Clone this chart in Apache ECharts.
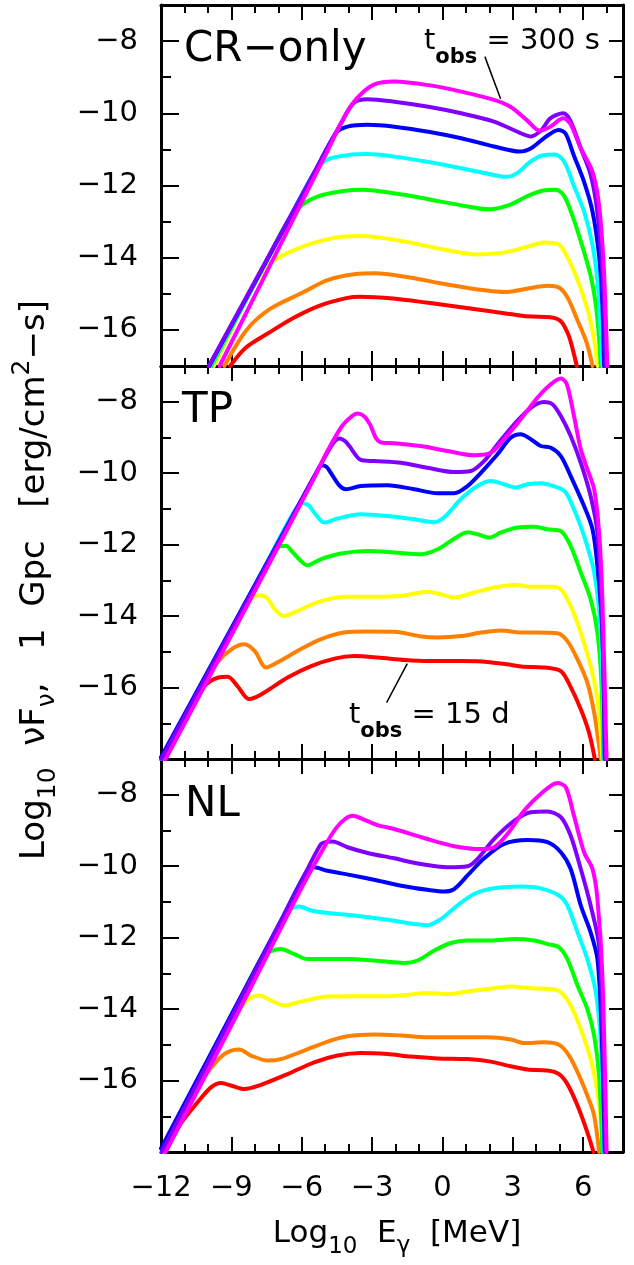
<!DOCTYPE html>
<html><head><meta charset="utf-8">
<script src="https://cdn.jsdelivr.net/npm/echarts@6/dist/echarts.min.js"></script>
<style>html,body{margin:0;padding:0;background:#fff;}#c{width:634px;height:1265px;}</style>
</head><body><div id="c"></div>
<script>
// ---------------- data ----------------
const lineColors = ['#ff0000','#ff8000','#ffff00','#00ff00','#00ffff','#0000ff','#8000ff','#ff00ff'];
const xTickLabels = [-12,-9,-6,-3,0,3,6];
const yTickLabels = [-16,-14,-12,-10,-8];
const panelNames = ['CR\u2212only','TP','NL'];
const yMins = [-17,-18,-18];
const yMaxAll = -7;
const xMin = -12, xMax = 7.7;

// CR-only panel
const crRed = [[-9.05,-17],[-8.4,-16.5],[-7.4,-16.08],[-6.3,-15.65],[-5.2,-15.32],[-4.1,-15.12],[-3.5,-15.08],[-2.1,-15.13],[-0.6,-15.25],[0.8,-15.37],[2.2,-15.5],[3.3,-15.6],[3.8,-15.63],[4.6,-15.65],[5.05,-15.76],[5.38,-16.15],[5.6,-16.65],[5.73,-17]];
const crOrange = [[-9.3,-17],[-8.35,-16.0],[-7.35,-15.42],[-6.0,-14.98],[-4.9,-14.62],[-3.7,-14.45],[-2.9,-14.43],[-1.4,-14.55],[0.1,-14.73],[1.5,-14.88],[2.75,-14.95],[3.6,-14.86],[4.5,-14.78],[5.0,-14.84],[5.35,-15.12],[5.75,-15.72],[6.15,-16.35],[6.4,-17]];
const crYellow = [[-9.75,-17],[-8.7,-15.6],[-8.22,-14.95],[-7.35,-14.15],[-5.9,-13.68],[-4.6,-13.45],[-3.6,-13.4],[-2.8,-13.43],[-1.4,-13.58],[0.1,-13.78],[1.5,-13.91],[2.6,-13.86],[3.6,-13.7],[4.35,-13.58],[4.95,-13.63],[5.3,-13.95],[5.75,-14.6],[6.18,-15.42],[6.45,-16.2],[6.62,-17]];
const crGreen = [[-9.85,-17],[-7.5,-14.1],[-6.65,-13.05],[-6.0,-12.55],[-5.3,-12.3],[-4.3,-12.16],[-3.4,-12.12],[-2.0,-12.22],[-0.6,-12.38],[0.8,-12.55],[2.0,-12.66],[2.9,-12.53],[3.6,-12.3],[4.3,-12.14],[4.85,-12.12],[5.2,-12.3],[5.55,-12.85],[5.95,-13.65],[6.32,-14.5],[6.55,-15.35],[6.68,-16.25],[6.75,-17]];
const crCyan = [[-9.9,-17],[-6.5,-12.89],[-5.45,-11.62],[-4.9,-11.28],[-4.05,-11.16],[-3.2,-11.13],[-2.05,-11.2],[-0.6,-11.35],[0.8,-11.52],[2.2,-11.71],[2.75,-11.76],[3.2,-11.65],[3.75,-11.34],[4.3,-11.16],[4.8,-11.14],[5.2,-11.35],[5.6,-12.0],[6.04,-12.72],[6.4,-13.65],[6.64,-14.85],[6.76,-16.2],[6.82,-17]];
const crBlue = [[-9.94,-17],[-5.6,-11.82],[-4.54,-10.55],[-4.05,-10.37],[-3.2,-10.32],[-2.05,-10.37],[-0.6,-10.51],[0.8,-10.69],[2.2,-10.92],[3.3,-11.06],[3.8,-10.96],[4.35,-10.68],[4.95,-10.46],[5.25,-10.56],[5.6,-11.16],[6.04,-11.9],[6.4,-12.72],[6.68,-13.95],[6.82,-15.3],[6.89,-17]];
const crViolet = [[-9.96,-17],[-5.3,-11.44],[-4.3,-10.25],[-3.76,-9.7],[-3.2,-9.61],[-2.05,-9.68],[-0.6,-9.82],[0.8,-10.0],[2.2,-10.23],[3.3,-10.54],[3.75,-10.64],[4.2,-10.48],[4.6,-10.14],[5.15,-10.0],[5.45,-10.2],[5.9,-10.97],[6.32,-11.7],[6.6,-12.7],[6.82,-14.4],[6.96,-17]];
const crMagenta = [[-9.5,-17],[-5.0,-11.17],[-4.1,-10.0],[-3.6,-9.55],[-2.9,-9.2],[-2.05,-9.12],[-0.6,-9.22],[0.8,-9.4],[2.2,-9.63],[2.9,-9.82],[3.6,-10.19],[4.15,-10.48],[4.6,-10.37],[5.15,-10.14],[5.45,-10.28],[5.9,-10.97],[6.4,-11.62],[6.68,-12.55],[6.89,-14.4],[7.03,-17]];

// TP panel
const tpRed = [[-11.98,-18],[-11.5,-17.4],[-10.86,-16.62],[-10.15,-15.96],[-9.55,-15.72],[-9.15,-15.7],[-8.75,-15.95],[-8.25,-16.32],[-7.75,-16.2],[-6.6,-15.72],[-5.6,-15.4],[-4.6,-15.19],[-3.75,-15.12],[-2.75,-15.16],[-1.6,-15.23],[-0.6,-15.26],[0.8,-15.26],[1.65,-15.27],[2.75,-15.35],[3.35,-15.41],[4.35,-15.44],[5.05,-15.54],[5.45,-15.96],[5.9,-16.61],[6.25,-17.26],[6.5,-18]];
const tpOrange = [[-11.97,-18],[-11.15,-17.0],[-10.3,-16.0],[-9.6,-15.3],[-9.0,-14.93],[-8.45,-14.79],[-8.0,-14.98],[-7.52,-15.44],[-7.05,-15.3],[-6.05,-14.93],[-5.2,-14.65],[-4.2,-14.46],[-3.2,-14.43],[-2.05,-14.44],[-0.9,-14.57],[-0.2,-14.6],[0.8,-14.56],[1.65,-14.46],[2.5,-14.4],[3.35,-14.46],[4.05,-14.46],[4.9,-14.48],[5.33,-14.7],[5.76,-15.21],[6.18,-15.86],[6.47,-16.7],[6.68,-17.63],[6.75,-18]];
const tpYellow = [[-11.96,-18],[-9.5,-15.0],[-8.45,-13.72],[-8.1,-13.48],[-7.75,-13.42],[-7.45,-13.52],[-7.1,-13.85],[-6.75,-14.0],[-6.2,-13.86],[-5.18,-13.58],[-4.05,-13.46],[-2.9,-13.46],[-1.77,-13.44],[-0.64,-13.32],[-0.07,-13.39],[0.5,-13.48],[1.35,-13.34],[2.2,-13.2],[3.06,-13.13],[3.9,-13.18],[4.62,-13.18],[5.05,-13.25],[5.47,-13.72],[5.9,-14.46],[6.32,-15.4],[6.61,-16.33],[6.75,-17.26],[6.82,-18]];
const tpGreen = [[-11.95,-18],[-8.3,-13.54],[-7.25,-12.25],[-6.95,-12.05],[-6.67,-12.03],[-6.4,-12.2],[-6.15,-12.38],[-5.75,-12.58],[-5.2,-12.41],[-4.33,-12.25],[-3.2,-12.18],[-2.05,-12.22],[-0.9,-12.27],[-0.2,-12.13],[0.36,-11.9],[1.07,-11.65],[1.5,-11.71],[2.0,-11.8],[2.5,-11.66],[3.2,-11.52],[3.9,-11.5],[4.48,-11.57],[5.05,-11.62],[5.47,-12.04],[5.9,-12.78],[6.32,-13.53],[6.61,-14.46],[6.78,-15.86],[6.86,-18]];
const tpCyan = [[-11.97,-18],[-7.4,-12.39],[-6.35,-11.1],[-5.96,-10.84],[-5.7,-10.9],[-5.47,-11.1],[-5.04,-11.38],[-4.47,-11.27],[-3.48,-11.15],[-2.34,-11.2],[-1.2,-11.29],[-0.35,-11.37],[0.07,-11.24],[0.78,-10.73],[1.49,-10.36],[2.06,-10.22],[2.63,-10.31],[3.13,-10.4],[3.63,-10.31],[4.19,-10.28],[4.9,-10.4],[5.26,-10.54],[5.61,-11.01],[6.04,-11.76],[6.47,-12.78],[6.75,-14.46],[6.89,-18]];
const tpBlue = [[-12,-17.95],[-6.4,-11.21],[-5.35,-9.95],[-5.15,-9.78],[-4.95,-9.82],[-4.76,-9.99],[-4.4,-10.34],[-4.12,-10.45],[-3.48,-10.36],[-2.34,-10.34],[-1.2,-10.45],[-0.21,-10.56],[0.5,-10.56],[1.07,-10.36],[1.64,-9.99],[2.35,-9.47],[2.91,-9.01],[3.34,-8.91],[3.77,-9.05],[4.19,-9.24],[4.62,-9.29],[5.05,-9.52],[5.47,-10.08],[6.04,-10.92],[6.4,-11.57],[6.61,-12.6],[6.82,-14.46],[6.92,-18]];
const tpViolet = [[-11.98,-18],[-5.8,-10.52],[-4.75,-9.25],[-4.4,-9.03],[-4.15,-9.1],[-3.97,-9.24],[-3.48,-9.63],[-2.91,-9.66],[-1.77,-9.71],[-0.64,-9.85],[0.5,-9.97],[1.21,-9.94],[1.78,-9.66],[2.35,-9.19],[3.06,-8.63],[3.77,-8.17],[4.33,-8.01],[4.69,-8.07],[5.05,-8.4],[5.47,-8.96],[5.9,-9.71],[6.32,-10.64],[6.61,-11.66],[6.78,-13.53],[6.96,-18]];
const tpMagenta = [[-11.8,-18],[-8.0,-13.3],[-5.6,-10.3],[-4.9,-9.38],[-4.3,-8.7],[-3.85,-8.4],[-3.62,-8.33],[-3.35,-8.4],[-3.1,-8.62],[-2.8,-9.05],[-2.55,-9.15],[-2.06,-9.16],[-0.92,-9.24],[0.22,-9.38],[1.35,-9.5],[2.06,-9.43],[2.63,-9.05],[3.34,-8.49],[4.05,-7.89],[4.62,-7.51],[5.05,-7.35],[5.3,-7.5],[5.61,-8.4],[5.9,-9.33],[6.18,-9.89],[6.47,-10.45],[6.68,-11.66],[6.82,-13.53],[7.0,-18]];

// NL panel
const nlRed = [[-11.85,-18],[-11.15,-17.2],[-10.44,-16.61],[-9.87,-16.19],[-9.44,-16.07],[-9.02,-16.14],[-8.45,-16.24],[-7.74,-16.12],[-6.6,-15.82],[-5.47,-15.49],[-4.47,-15.3],[-3.48,-15.23],[-2.34,-15.26],[-1.35,-15.33],[-0.21,-15.38],[1.07,-15.4],[2.06,-15.47],[2.91,-15.6],[3.63,-15.69],[4.48,-15.72],[4.97,-15.82],[5.33,-16.1],[5.76,-16.7],[6.18,-17.45],[6.44,-18]];
const nlOrange = [[-11.88,-18],[-10.86,-16.65],[-10.01,-15.77],[-9.3,-15.26],[-8.66,-15.13],[-8.16,-15.3],[-7.45,-15.44],[-6.89,-15.4],[-5.89,-15.16],[-4.9,-14.91],[-4.05,-14.76],[-2.91,-14.71],[-1.77,-14.74],[-0.64,-14.79],[0.78,-14.79],[1.92,-14.79],[2.91,-14.85],[3.48,-14.95],[4.33,-14.93],[4.97,-15.0],[5.4,-15.3],[5.83,-15.86],[6.18,-16.42],[6.47,-16.98],[6.68,-18]];
const nlYellow = [[-11.95,-18],[-10.0,-15.49],[-9.0,-14.2],[-8.66,-14.0],[-8.25,-13.72],[-7.81,-13.62],[-7.31,-13.76],[-6.74,-13.9],[-6.03,-13.79],[-4.9,-13.65],[-3.76,-13.64],[-2.34,-13.64],[-1.49,-13.6],[-0.64,-13.55],[0.22,-13.58],[1.07,-13.51],[1.92,-13.44],[2.91,-13.37],[3.77,-13.42],[4.62,-13.44],[5.05,-13.53],[5.47,-13.9],[5.9,-14.56],[6.32,-15.4],[6.61,-16.33],[6.78,-17.26],[6.86,-18]];
const nlGreen = [[-11.92,-18],[-8.8,-13.97],[-7.7,-12.55],[-7.3,-12.38],[-6.89,-12.32],[-6.32,-12.46],[-5.75,-12.6],[-4.9,-12.6],[-4.05,-12.6],[-2.91,-12.64],[-1.63,-12.71],[-1.06,-12.64],[-0.35,-12.36],[0.36,-12.15],[1.07,-12.08],[2.06,-12.08],[3.06,-12.04],[3.91,-12.08],[4.48,-12.18],[4.97,-12.27],[5.33,-12.6],[5.76,-13.34],[6.18,-14.0],[6.47,-14.74],[6.68,-15.86],[6.82,-18]];
const nlCyan = [[-11.95,-18],[-7.7,-12.64],[-6.6,-11.25],[-6.3,-11.15],[-6.1,-11.13],[-5.61,-11.24],[-4.9,-11.31],[-3.76,-11.38],[-2.34,-11.5],[-1.2,-11.62],[-0.64,-11.65],[-0.07,-11.48],[0.64,-11.1],[1.35,-10.78],[2.2,-10.62],[3.34,-10.57],[4.19,-10.62],[4.97,-10.82],[5.33,-11.1],[5.76,-11.85],[6.18,-12.6],[6.54,-13.53],[6.75,-14.93],[6.89,-18]];
const nlBlue = [[-12,-17.9],[-6.8,-11.41],[-5.75,-10.1],[-5.47,-10.03],[-4.9,-10.13],[-3.9,-10.25],[-2.77,-10.4],[-1.63,-10.56],[-0.64,-10.66],[0.07,-10.71],[0.5,-10.64],[1.07,-10.26],[1.78,-9.78],[2.63,-9.38],[3.63,-9.27],[4.48,-9.33],[5.05,-9.61],[5.47,-10.08],[5.9,-11.1],[6.32,-11.85],[6.61,-12.6],[6.78,-14.46],[6.92,-18]];
const nlViolet = [[-11.97,-18],[-6.2,-10.67],[-5.2,-9.4],[-4.95,-9.32],[-4.68,-9.31],[-4.05,-9.47],[-3.19,-9.63],[-2.06,-9.78],[-0.92,-9.94],[0.22,-10.03],[1.07,-10.0],[1.49,-9.8],[2.2,-9.24],[3.06,-8.73],[3.77,-8.49],[4.48,-8.47],[5.05,-8.63],[5.47,-9.15],[5.9,-10.08],[6.32,-11.1],[6.68,-12.22],[6.82,-14.46],[6.96,-18]];
const nlMagenta = [[-11.8,-18],[-8.6,-13.95],[-6.0,-10.6],[-5.0,-9.42],[-4.55,-8.95],[-4.15,-8.68],[-3.83,-8.59],[-3.4,-8.68],[-2.77,-8.85],[-2.06,-8.96],[-0.64,-9.24],[0.5,-9.44],[1.64,-9.52],[2.2,-9.47],[2.77,-9.1],[3.48,-8.45],[4.19,-7.98],[4.9,-7.67],[5.26,-7.79],[5.61,-8.59],[6.04,-9.61],[6.4,-10.08],[6.61,-10.92],[6.82,-13.06],[7.0,-18]];

const panelSeries = [
  [crRed, crOrange, crYellow, crGreen, crCyan, crBlue, crViolet, crMagenta],
  [tpRed, tpOrange, tpYellow, tpGreen, tpCyan, tpBlue, tpViolet, tpMagenta],
  [nlRed, nlOrange, nlYellow, nlGreen, nlCyan, nlBlue, nlViolet, nlMagenta]
];
// annotation leader lines in data coordinates [panel, start, end]
const leaderLines = [[0, [1.81,-8.43], [2.48,-9.6]], [1, [-2.38,-16.42], [-1.5,-15.33]]];

// ---------------- layout ----------------
const FONT = 'DejaVu Sans';
const gridLeft = 161, gridWidth = 462;
const panelTops = [5, 366, 759];
const panelHeights = [361, 393, 393];
const minus = v => String(v).replace('-', '\u2212');

const grids = [], xAxes = [], yAxes = [], series = [];
for (let p = 0; p < 3; p++) {
  grids.push({left: gridLeft, top: panelTops[p], width: gridWidth, height: panelHeights[p], show: false, containLabel: false, outerBoundsMode: 'none'});
  ['bottom','top'].forEach(pos => {
    xAxes.push({
      type: 'value', gridIndex: p, position: pos, min: xMin, max: xMax, interval: 3,
      axisLine: {show: true, onZero: false, lineStyle: {color: '#000', width: 3}},
      axisTick: {show: true, inside: true, length: 15, lineStyle: {color: '#000', width: 2}},
      minorTick: {show: true, splitNumber: 3, length: 8, lineStyle: {color: '#000', width: 2}},
      splitLine: {show: false}, minorSplitLine: {show: false},
      axisLabel: {show: (p === 2 && pos === 'bottom'), margin: 22, color: '#000', fontSize: 29, fontFamily: FONT,
        formatter: v => (Math.abs(v % 3) < 1e-9 ? minus(v) : '')}
    });
  });
  const evenFmt = v => (Math.abs(v % 2) < 1e-9 && v > yMins[p] + 0.5 && v < yMaxAll - 0.5) ? minus(v) : '';
  ['left','right'].forEach(pos => {
    yAxes.push({
      type: 'value', gridIndex: p, position: pos, min: yMins[p], max: yMaxAll, interval: 1,
      axisLine: {show: true, onZero: false, lineStyle: {color: '#000', width: 3}},
      axisTick: {show: true, inside: true, length: pos === 'left' ? 18 : 14, customValues: yTickLabels, lineStyle: {color: '#000', width: 2}},
      splitLine: {show: false},
      axisLabel: {show: pos === 'left', customValues: yTickLabels, margin: 23, color: '#000', fontSize: 29, fontFamily: FONT, formatter: evenFmt}
    });
    yAxes.push({
      type: 'value', gridIndex: p, position: pos, min: yMins[p], max: yMaxAll, interval: 1,
      axisLine: {show: false, onZero: false},
      axisTick: {show: true, inside: true, length: pos === 'left' ? 10 : 9, lineStyle: {color: '#000', width: 2}},
      splitLine: {show: false}, axisLabel: {show: false}
    });
  });
  panelSeries[p].forEach((data, j) => {
    series.push({
      type: 'line', xAxisIndex: 2 * p, yAxisIndex: 4 * p, data: data,
      showSymbol: false, symbol: 'none', smooth: 0.3, clip: true,
      lineStyle: {color: lineColors[j], width: 4, cap: 'round', join: 'round'},
      silent: true, emphasis: {disabled: true}, animation: false
    });
  });
}

const chart = echarts.init(document.getElementById('c'), null, {renderer: 'canvas'});
chart.setOption({animation: false, backgroundColor: '#fff', grid: grids, xAxis: xAxes, yAxis: yAxes, series: series});

// ---------------- texts ----------------
const mctx = document.createElement('canvas').getContext('2d');
function measure(t, s, w) { mctx.font = (w || 'normal') + ' ' + s + 'px "' + FONT + '"'; return mctx.measureText(t).width; }
function pieces(list, center) {
  let x = 0; const out = [];
  list.forEach(p => {
    out.push({type: 'text', x: x, y: (p.dy || 0) - 0.35 * p.s, silent: true,
      style: {text: p.t, fontSize: p.s, fontFamily: FONT, fontWeight: p.w || 'normal', fill: '#000', align: 'left', verticalAlign: 'middle'}});
    x += measure(p.t, p.s, p.w);
  });
  if (center) out.forEach(c => { c.x -= x / 2; });
  return out;
}
const graphics = [];
const labelPos = [[187, 65], [185, 426], [188, 820]];
panelNames.forEach((n, i) => graphics.push({type: 'group', x: labelPos[i][0] - 3, y: labelPos[i][1], children: pieces([{t: n, s: 42}])}));
graphics.push({type: 'group', x: 424, y: 52, children: pieces([{t: 't', s: 29}, {t: 'obs', s: 21, w: 'bold', dy: 13}, {t: ' = 300 s', s: 29}])});
graphics.push({type: 'group', x: 349, y: 726, children: pieces([{t: 't', s: 29}, {t: 'obs', s: 21, w: 'bold', dy: 13}, {t: ' = 15 d', s: 29}])});
leaderLines.forEach(l => {
  const a = chart.convertToPixel({xAxisIndex: 2 * l[0], yAxisIndex: 4 * l[0]}, l[1]);
  const b = chart.convertToPixel({xAxisIndex: 2 * l[0], yAxisIndex: 4 * l[0]}, l[2]);
  graphics.push({type: 'line', silent: true, shape: {x1: a[0], y1: a[1], x2: b[0], y2: b[1]}, style: {stroke: '#000', lineWidth: 1.5}});
});
graphics.push({type: 'group', x: 397, y: 1245, children: pieces([
  {t: 'Log', s: 31}, {t: '10', s: 23, dy: 10}, {t: '  E', s: 31}, {t: '\u03b3', s: 23, dy: 9}, {t: '  [MeV]', s: 31}], true)});
graphics.push({type: 'group', x: 47, y: 580, rotation: Math.PI / 2, children: pieces([
  {t: 'Log', s: 34}, {t: '10', s: 25, dy: 10}, {t: '  \u03bdF', s: 34}, {t: '\u03bd', s: 25, dy: 9}, {t: ',   1  Gpc   [erg/cm', s: 34},
  {t: '2', s: 25, dy: -16}, {t: '\u2212s]', s: 34}], true)});
chart.setOption({graphic: graphics});
</script>
</body></html>
